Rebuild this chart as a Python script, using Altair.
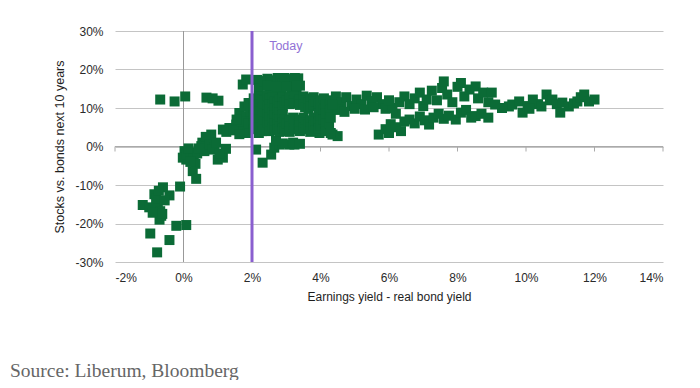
import altair as alt
import pandas as pd

# Scatter points: earnings yield - real bond yield (%), stocks vs bonds next 10y (%)
x_vals = [
    # lower-left cluster
    -1.19, -1.0, -0.85, -0.75, -0.65, -0.7, -0.6, -0.41, -0.8, -0.72, -0.68, -0.55, -0.1, -0.21, 0.08, -0.97, -0.41, -0.77, -0.9, -0.62,
    # top-left outliers
    -0.68, -0.26, 0.05, 0.67, 1.02, 0.85,
    # 0-2% cluster
    0.03, 0.08, 0.27, 0.37, -0.02, 0.1, 0.2, 0.3, 0.15, 0.4, 0.52, 0.71, 0.81, 0.61, 0.55, 0.65, 0.75, 0.9, 1.0, 1.15,
    1.24, 0.85, 0.95, 1.05, 0.45, 0.35, 0.2, 1.15, 1.34, 1.54, 1.73, 1.87, 1.25, 1.45, 1.63, 1.63, 1.78, 1.83, 1.7, 1.9,
    1.95, 1.73, 1.83, 1.9, 1.55,
    # below-band points right of 2%
    2.12, 2.31, 2.56, 2.65, 2.8, 3.09, 3.24, 3.97, 4.35, 4.5, 2.9, 3.2, 2.7, 3.4,
    # top band 2-3.4%
    2.15, 2.3, 2.45, 2.6, 2.75, 2.9, 3.05, 3.2, 3.35, 3.4, 2.2, 2.5, 2.85, 3.15, 3.3, 2.65,
    2.35, 2.55, 2.95, 3.25, 2.45, 2.7, 3.0, 3.3,
    # main band 2-4.4%
    2.05, 2.05, 2.05, 2.05, 2.05,
    2.1, 2.1, 2.1, 2.1,
    2.2, 2.2, 2.2, 2.2, 2.2, 2.2,
    2.3, 2.3, 2.3, 2.3, 2.3,
    2.35, 2.35, 2.35, 2.35, 2.35,
    2.45, 2.45, 2.45, 2.45,
    2.5, 2.5, 2.5, 2.5, 2.5, 2.5,
    2.6, 2.6, 2.6, 2.6, 2.6,
    2.65, 2.65, 2.65, 2.65, 2.65,
    2.75, 2.75, 2.75, 2.75, 2.75,
    2.8, 2.8, 2.8, 2.8, 2.8, 2.8,
    2.9, 2.9, 2.9, 2.9, 2.9,
    2.95, 2.95, 2.95, 2.95,
    3.0, 3.0,
    3.1, 3.1, 3.1, 3.1, 3.1,
    3.2, 3.2, 3.2,
    3.25, 3.25, 3.25, 3.25,
    3.35, 3.35, 3.35,
    3.4, 3.4, 3.4, 3.4, 3.4,
    3.5, 3.5, 3.5, 3.5,
    3.55, 3.55, 3.55, 3.55,
    3.65, 3.65, 3.65,
    3.7, 3.7, 3.7, 3.7, 3.7,
    3.8, 3.8, 3.8, 3.8,
    3.85, 3.85, 3.85,
    3.95, 3.95, 3.95, 3.95,
    4.0, 4.0, 4.0, 4.0,
    4.1, 4.1, 4.1,
    4.15, 4.15, 4.15, 4.15,
    4.25, 4.25, 4.25,
    4.3, 4.3, 4.3,
    # 4.3-5.9 upper band
    4.45, 4.6, 4.75, 4.9, 5.05, 5.2, 5.35, 5.5, 5.65, 5.8, 5.9, 4.5, 4.7, 5.0, 5.3, 5.55, 4.35, 4.3,
    # lower band 5.6-8.9
    5.7, 5.9, 6.05, 6.2, 6.35, 6.45, 6.6, 6.75, 6.9, 7.05, 7.17, 7.3, 7.45, 7.6, 7.75, 7.95, 8.1, 8.25, 8.4, 8.53,
    8.7, 8.9, 6.2, 6.0,
    # upper band 6-9.2
    6.1, 6.3, 6.45, 6.6, 6.75, 6.9, 7.0, 7.1, 7.25, 7.4, 7.55, 7.6, 7.7, 7.85, 8.0, 8.1, 8.2, 8.35, 8.53, 8.6,
    8.75, 8.9, 9.0, 9.1, 6.0,
    # right cluster 9-12%
    9.5, 9.6, 9.8, 9.9, 10.05, 10.2, 10.35, 10.45, 10.6, 10.7, 10.77, 10.9, 11.0, 11.06, 11.25, 11.4, 11.5, 11.6, 11.7, 11.84,
    12.0, 9.3, 10.1,
]
y_vals = [
    -15.2, -15.8, -12.4, -15.5, -18.0, -19.0, -10.6, -12.7, -13.5, -11.5, -16.8, -14.0, -10.4, -20.6, -20.4, -22.6, -24.3, -27.5, -17.2, -17.5,
    12.2, 11.7, 13.0, 12.7, 11.9, 12.5,
    -1.2, -3.4, -6.4, -8.4, -2.9, -2.0, -1.5, -3.0, -0.5, -1.8, 0.1, 1.8, 3.1, -1.2, 1.0, 2.5, 0.5, -0.2, -3.4, -2.9,
    -0.6, -0.8, 1.0, -1.8, -0.5, -4.5, -4.0, 4.4, 4.8, 5.7, 4.4, 3.5, 3.8, 4.2, 3.2, 8.7, 10.4, 7.9, 6.5, 6.0,
    9.0, 16.1, 17.4, 11.3, 7.0,
    -0.8, -4.2, -2.1, -0.3, 0.5, 0.5, 0.5, 3.5, 3.1, 2.7, 0.8, 1.0, 1.5, 0.7,
    17.3, 16.2, 17.6, 16.8, 17.8, 16.4, 17.5, 16.9, 17.7, 15.8, 15.0, 14.8, 15.2, 14.6, 13.8, 13.6,
    17.0, 17.2, 17.8, 17.8, 15.8, 15.6, 15.5, 15.9,
    12.5, 10.0, 8.0, 6.0, 4.5,
    11.8, 9.5, 7.2, 5.5,
    13.0, 11.0, 9.0, 7.0, 5.0, 3.5,
    12.3, 10.2, 8.0, 5.8, 4.0,
    12.0, 10.0, 8.5, 6.5, 4.5,
    13.2, 10.5, 8.2, 6.2,
    12.5, 11.0, 9.5, 7.5, 5.5, 4.0,
    12.8, 10.8, 8.8, 7.0, 5.0,
    11.8, 9.8, 8.0, 6.0, 4.2,
    11.5, 9.5, 7.5, 5.8, 4.4,
    12.2, 10.5, 8.8, 7.0, 5.3, 3.8,
    12.8, 10.5, 8.2, 6.2, 4.6,
    11.5, 7.0, 5.0, 4.0,
    12.0, 6.0,
    12.8, 11.0, 6.8, 5.2, 3.8,
    12.0, 7.5, 5.8,
    13.0, 11.2, 6.5, 4.8,
    11.8, 6.0, 4.5,
    12.3, 10.8, 7.0, 5.5, 4.0,
    13.0, 11.0, 7.5, 5.0,
    12.0, 10.2, 6.2, 4.5,
    11.5, 9.8, 5.8,
    12.5, 10.5, 6.8, 5.0, 3.8,
    12.8, 10.8, 7.5, 5.5,
    11.8, 6.5, 4.2,
    11.2, 8.5, 6.5, 4.6,
    12.0, 10.0, 7.5, 5.5,
    12.5, 9.5, 7.0,
    11.0, 8.5, 6.0, 4.0,
    10.8, 8.5, 6.0,
    12.0, 9.5, 7.5,
    13.0, 11.5, 12.8, 10.5, 12.2, 11.0, 13.2, 11.8, 12.8, 11.0, 9.8, 9.5, 9.0, 9.8, 9.6, 10.2, 10.8, 3.5,
    3.1, 4.5, 5.8, 5.0, 4.0, 6.5, 7.0, 6.0, 7.8, 6.8, 5.7, 7.5, 8.5, 7.2, 8.0, 7.0, 8.8, 9.5, 7.5, 7.9,
    8.5, 7.5, 8.5, 3.5,
    10.0, 11.5, 13.0, 11.0, 12.5, 14.0, 10.5, 12.2, 14.5, 12.0, 15.2, 16.9, 13.5, 11.5, 15.5, 16.5, 13.0, 14.8, 15.6, 12.5,
    14.0, 11.5, 14.0, 10.9, 12.0,
    10.4, 10.9, 11.7, 8.8, 10.5, 12.2, 11.0, 10.4, 13.5, 12.0, 12.2, 11.0, 8.8, 11.4, 10.4, 11.2, 11.7, 12.8, 13.5, 11.7,
    12.2, 10.0, 9.8,
]

x_ticks = [-2, 0, 2, 4, 6, 8, 10, 12, 14]
y_ticks = [-30, -20, -10, 0, 10, 20, 30]
today_x = [2]
today_label = ["Today"]
source_text = ["Source: Liberum, Bloomberg"]

pts = pd.DataFrame({"x": x_vals, "y": y_vals})

FONT = "Liberation Sans"
xscale = alt.Scale(domain=[-2, 14], nice=False, zero=False)
yscale = alt.Scale(domain=[-30, 30], nice=False, zero=False)

x_axis = alt.Axis(
    values=x_ticks, labelExpr="datum.value + '%'", grid=False, ticks=False, domain=False,
    labelFont=FONT, labelFontSize=12, labelColor="#2a2a2a", labelPadding=10, labelOverlap=False,
    title="Earnings yield - real bond yield", titleFont=FONT, titleFontSize=12,
    titleFontWeight="normal", titleColor="#1e1e1e", titlePadding=8,
)
y_axis = alt.Axis(
    values=y_ticks, labelExpr="datum.value + '%'", grid=True, gridColor="#c4c4c4",
    gridWidth=1, ticks=False, domain=False, labelFont=FONT, labelFontSize=12,
    labelColor="#2a2a2a", labelPadding=12, labelOverlap=False,
    title="Stocks vs. bonds next 10 years", titleFont=FONT, titleFontSize=12.5,
    titleFontWeight="normal", titleColor="#1e1e1e", titlePadding=8,
)


def X(field):
    return alt.X(field, scale=xscale, axis=x_axis)


def Y(field):
    return alt.Y(field, scale=yscale, axis=y_axis)


vline0 = alt.Chart(pd.DataFrame({"x": [0]})).mark_rule(color="#999999", strokeWidth=1).encode(
    x=X("x:Q"),
)

hline0 = alt.Chart(pd.DataFrame({"y": [0]})).mark_rule(color="#aaaaaa", strokeWidth=1).encode(
    y=Y("y:Q"),
)

tick_df = pd.DataFrame({"x": x_ticks, "y": [0] * len(x_ticks), "y2": [-1.3] * len(x_ticks)})
zero_ticks = alt.Chart(tick_df).mark_rule(color="#aaaaaa", strokeWidth=1).encode(
    x=X("x:Q"), y=Y("y:Q"), y2="y2:Q",
)

scatter = alt.Chart(pts).mark_square(size=100, color="#0b6b36", opacity=1).encode(
    x=X("x:Q"), y=Y("y:Q"),
)

today_line = alt.Chart(pd.DataFrame({"x": today_x})).mark_rule(color="#8a5fcf", strokeWidth=3).encode(
    x=X("x:Q"),
)

today_text = alt.Chart(pd.DataFrame({"x": [2.5], "y": [26], "t": today_label})).mark_text(
    align="left", baseline="middle", font=FONT, fontSize=12.5, color="#9272d6",
).encode(
    x=X("x:Q"), y=Y("y:Q"), text="t:N",
)

source = alt.Chart(pd.DataFrame({"t": source_text})).mark_text(
    align="left", baseline="alphabetic", font="Liberation Serif", fontSize=19.5, color="#666666",
).encode(
    x=alt.value(-105), y=alt.value(346), text="t:N",
)

chart = alt.layer(
    vline0, hline0, zero_ticks, scatter, today_line, today_text, source
).properties(
    width=548, height=231,
    padding={"left": 107, "top": 23, "right": 28, "bottom": 118},
    autosize=alt.AutoSizeParams(type="none"),
).configure_view(stroke=None)

chart.save("out.html", embed_options={"renderer": "svg", "actions": False})
